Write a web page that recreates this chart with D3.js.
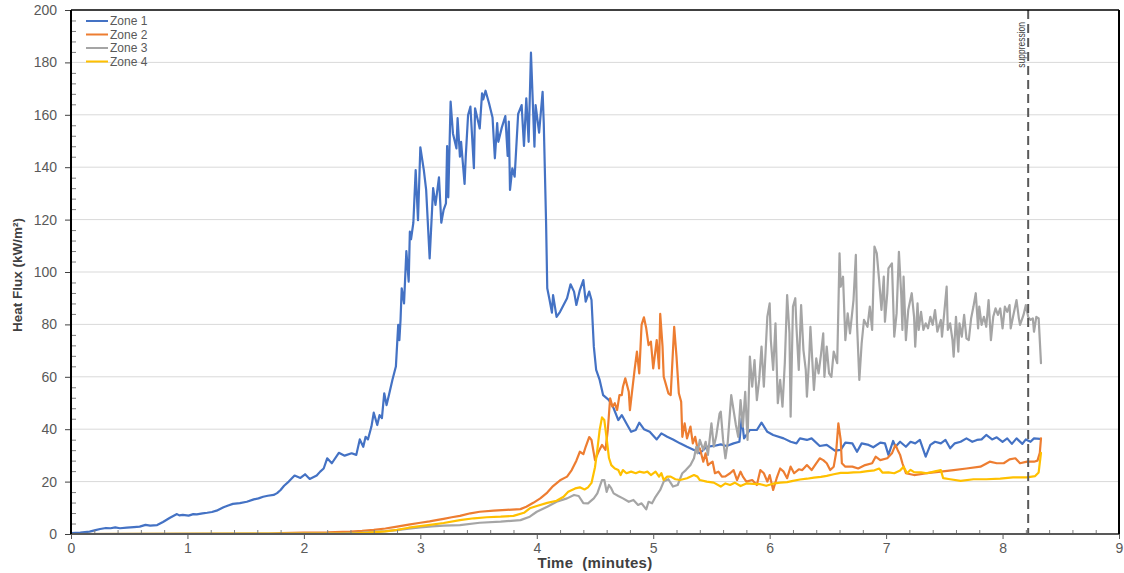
<!DOCTYPE html>
<html>
<head>
<meta charset="utf-8">
<script src="https://cdn.jsdelivr.net/npm/d3@7"></script>
<style>
  body { margin: 0; background: #fff; }
  svg { display: block; }
  text { font-family: "Liberation Sans", Arial, Helvetica, sans-serif; }
</style>
</head>
<body>
<svg id="chart" width="1124" height="573"></svg>
<script>
// Heat flux readings per zone (time in minutes, flux in kW/m²)
const zone1Time = [0,0.08,0.16,0.21,0.25,0.3,0.34,0.38,0.42,0.48,0.54,0.59,0.64,0.68,0.74,0.79,0.85,0.91,0.93,0.96,1.01,1.05,1.08,1.13,1.17,1.21,1.25,1.31,1.35,1.39,1.45,1.51,1.57,1.61,1.65,1.69,1.74,1.77,1.8,1.83,1.87,1.92,1.97,2.01,2.05,2.11,2.14,2.17,2.2,2.24,2.3,2.35,2.41,2.45,2.48,2.51,2.53,2.55,2.58,2.6,2.63,2.65,2.67,2.69,2.71,2.73,2.76,2.79,2.81,2.82,2.83,2.84,2.86,2.88,2.9,2.91,2.92,2.94,2.96,2.98,3.0,3.03,3.05,3.08,3.11,3.13,3.16,3.18,3.2,3.22,3.23,3.24,3.26,3.28,3.31,3.32,3.34,3.35,3.38,3.39,3.41,3.43,3.46,3.47,3.51,3.53,3.54,3.56,3.59,3.62,3.64,3.66,3.67,3.7,3.73,3.75,3.76,3.77,3.79,3.81,3.84,3.87,3.89,3.91,3.93,3.95,3.98,3.99,4.02,4.05,4.06,4.08,4.09,4.11,4.13,4.14,4.17,4.2,4.23,4.26,4.29,4.32,4.34,4.37,4.4,4.42,4.45,4.47,4.49,4.51,4.54,4.57,4.62,4.66,4.7,4.73,4.77,4.81,4.85,4.88,4.92,4.97,5.03,5.07,5.12,5.17,5.23,5.29,5.35,5.4,5.46,5.52,5.58,5.63,5.69,5.74,5.76,5.78,5.83,5.89,5.93,5.98,6.03,6.12,6.18,6.23,6.26,6.32,6.36,6.43,6.49,6.56,6.61,6.65,6.71,6.75,6.79,6.85,6.89,6.95,6.99,7.02,7.06,7.08,7.12,7.17,7.21,7.25,7.29,7.34,7.38,7.42,7.47,7.51,7.55,7.59,7.64,7.69,7.74,7.78,7.82,7.86,7.91,7.95,8.0,8.04,8.08,8.12,8.17,8.2,8.24,8.27,8.32];
const zone1Flux = [0.3,0.5,0.9,1.5,1.9,2.3,2.2,2.5,2.2,2.4,2.6,2.8,3.5,3.2,3.4,4.6,6.2,7.6,7.1,7.3,7.0,7.6,7.5,7.9,8.1,8.4,8.9,10.2,10.9,11.5,11.8,12.3,13.2,13.6,14.2,14.6,14.9,15.6,16.8,18.4,20,22.3,21.4,22.8,21,22.3,23.8,25,28.9,27,31,29.9,30.8,30.2,36.1,33.3,37.1,36.1,41,46.3,41.6,45.4,44.2,53.7,49.2,53,58.8,63.9,79.8,74,81.7,93.8,88,108,96.3,115.4,112.5,118.8,138.9,119.8,147.6,138.9,131.3,105.2,132,125.6,136.1,118.8,123.7,126.2,148.1,128.5,165,152.9,147.2,158.7,144,149.7,133.6,144,159.9,163.1,139.6,162.5,154.8,168.2,165.9,169.2,164.4,159,143.4,156.8,149.7,155.2,159.5,144.3,157.4,131.3,139.6,136.4,160.3,163.7,148.1,166.3,149.7,183.7,147.8,163.7,153.2,168.8,156.8,118.6,93.8,89.3,84.5,91.2,82.9,84.8,87.4,90,95.3,92.5,87.4,93.1,96.9,88.7,92.5,89.3,71.5,62.6,58.8,53,51.1,48,43.5,45.4,42.2,39,39.7,42.5,40,39,36.1,38.4,37.1,36.1,34.6,33.3,32.1,30.8,33.3,33.6,34.2,33.6,34.6,35.2,44.2,36.5,39.7,39.7,42.5,39,37.8,36.5,35.2,34.6,36.5,35.9,36.5,33.6,34,31.8,32.1,34.9,34.6,31.4,34.6,34,33.1,34.9,34.6,30.2,35.5,33.3,35.2,33.3,35.2,34.6,35.9,29.5,34,35.2,34.6,35.9,32.7,34.6,35.2,36.5,35.2,35.9,36.1,37.8,36.1,36.9,35.2,36.5,34.4,36.5,34.4,36.1,35.2,36.5,36.3];

const zone2Time = [0,1.7,1.8,2.0,2.2,2.4,2.5,2.6,2.7,2.8,2.9,3.0,3.08,3.15,3.2,3.27,3.34,3.43,3.51,3.63,3.74,3.86,3.91,3.97,4.03,4.09,4.14,4.2,4.26,4.3,4.34,4.37,4.4,4.42,4.45,4.47,4.5,4.53,4.56,4.59,4.61,4.63,4.65,4.67,4.69,4.71,4.73,4.74,4.76,4.79,4.8,4.82,4.84,4.86,4.88,4.9,4.92,4.94,4.96,4.98,5.0,5.03,5.05,5.06,5.08,5.09,5.11,5.13,5.15,5.18,5.2,5.22,5.24,5.25,5.27,5.29,5.32,5.34,5.36,5.38,5.4,5.43,5.45,5.47,5.49,5.51,5.53,5.56,5.59,5.62,5.66,5.69,5.72,5.75,5.77,5.8,5.85,5.89,5.92,5.95,5.98,6.0,6.03,6.06,6.09,6.12,6.15,6.18,6.21,6.25,6.28,6.32,6.36,6.4,6.43,6.46,6.49,6.52,6.55,6.57,6.59,6.61,6.62,6.65,6.71,6.76,6.82,6.88,6.91,6.95,7.01,7.05,7.08,7.1,7.12,7.14,7.17,7.24,7.35,7.47,7.58,7.69,7.81,7.89,7.95,8.01,8.06,8.11,8.15,8.21,8.27,8.3,8.32,8.33];
const zone2Flux = [0,0.1,0.3,0.5,0.6,0.9,1.2,1.6,2.1,2.8,3.6,4.3,4.8,5.4,5.8,6.4,6.9,7.9,8.5,8.9,9.2,9.5,10.4,11.9,13.6,15.8,18.3,20.5,21.9,24.4,28,31.4,30.5,33.3,37,35.9,28.2,31.4,34,32.1,39.7,51.8,48.6,49.9,47.3,53,53,56.2,59.4,54.3,47.3,55,62.6,69.6,61.3,79.8,82.7,78.5,72.1,73.4,63.2,74,63.2,84,71.5,60,56.9,53.7,53,79.1,67.7,53.7,50.5,37.1,42.2,36.5,41,34.6,37.1,32.7,32.7,27.6,30.8,26.3,27,27.6,23.2,23.8,21.9,22,23.2,24.4,20.6,23.8,21.9,20,20.6,18.7,24.4,23.2,20,22.5,16.8,21.3,25,23.8,21.3,25.7,23.2,24.7,24.4,26.3,24.4,27,28.9,28.2,27,24.4,25.7,30.8,42.2,35.9,27,25.7,25.7,25,26.3,27,29.5,28.2,28.9,30.8,34,32,30.2,27,23.2,22.5,23.2,23.8,24.4,25,25.7,27.6,27,27,28.5,28.9,27,27.6,27.6,28,31,36.5];

const zone3Time = [0,2.3,2.5,2.6,2.7,2.8,2.9,3.0,3.1,3.2,3.34,3.51,3.69,3.86,3.94,4.0,4.09,4.17,4.26,4.32,4.36,4.4,4.44,4.49,4.52,4.56,4.58,4.6,4.62,4.64,4.66,4.7,4.74,4.79,4.83,4.87,4.9,4.94,4.96,4.99,5.02,5.06,5.09,5.13,5.17,5.21,5.25,5.28,5.32,5.35,5.37,5.38,5.4,5.43,5.45,5.47,5.5,5.52,5.54,5.57,5.58,5.6,5.62,5.64,5.67,5.69,5.71,5.73,5.75,5.77,5.79,5.81,5.83,5.85,5.87,5.89,5.91,5.93,5.95,5.98,6.0,6.01,6.03,6.05,6.07,6.09,6.11,6.13,6.15,6.17,6.18,6.2,6.22,6.23,6.25,6.27,6.29,6.31,6.32,6.34,6.35,6.38,6.4,6.42,6.44,6.46,6.47,6.49,6.51,6.53,6.55,6.58,6.6,6.61,6.63,6.65,6.67,6.69,6.72,6.74,6.75,6.77,6.79,6.81,6.84,6.86,6.88,6.9,6.92,6.94,6.96,6.98,6.99,7.01,7.02,7.05,7.07,7.09,7.11,7.13,7.14,7.15,7.17,7.19,7.22,7.24,7.25,7.27,7.28,7.3,7.32,7.34,7.36,7.38,7.4,7.42,7.44,7.47,7.48,7.5,7.52,7.53,7.55,7.57,7.58,7.6,7.62,7.63,7.65,7.67,7.69,7.71,7.73,7.75,7.77,7.79,7.8,7.82,7.84,7.86,7.88,7.9,7.92,7.94,7.96,7.98,8.0,8.02,8.04,8.06,8.07,8.09,8.12,8.14,8.15,8.18,8.2,8.22,8.24,8.26,8.27,8.29,8.31,8.33];
const zone3Flux = [0,0.2,0.5,0.8,1.1,1.5,2.0,2.5,2.9,3.2,3.4,4.3,4.7,5.3,6.6,8.5,10.4,12.3,13.6,14.9,14.5,11.8,11.7,13.6,15.5,20.6,20.6,16.1,18.7,17.4,15.5,14.5,13.6,12.3,13,11.1,11.7,9.4,12.3,11.7,14.2,16.8,20,20.9,18.1,18.7,23.2,24.4,26.3,28.9,33.3,30.8,35.9,32.1,35.2,30.2,42.2,33.3,37.1,46,46.7,35.9,28.9,35,53,47.3,41.6,37.1,51.1,41,54.3,35.9,67.7,56.2,66.4,51.1,58.8,71.5,56.2,82.9,88,74,62.6,80.4,49.9,58.8,48.6,65.2,91.2,76.6,44.8,86.8,90,79.1,62.6,87.4,70.2,62.6,52.4,67.7,79.1,55,67,61.3,68.3,76.6,60,71.5,61.3,60,69.6,65.2,107.1,94.4,98.2,74,84.2,76.6,89.3,106.5,80.4,58.8,72.8,81.7,79.1,86.8,77.9,109.7,107.1,96.9,85.5,98.2,81,91.9,101.4,103.3,75.3,84.2,107.7,91.2,77.9,98.2,74,85.5,91.9,82.9,71.5,88,77.9,84.8,77.9,80.4,78.5,82.9,79.8,85.5,77.2,81.7,75.3,84.8,94.4,77.9,80.4,74,67.7,82.9,69.6,80.4,75.3,83.6,74.7,74,82.3,86.8,91.9,78.5,86.8,79.8,82.9,79.1,89.3,74,82.9,86.1,83.6,86.1,78.5,86.8,84.8,87.4,78.5,82.9,89.3,82.3,79.8,83.6,87.4,82.9,81.7,82.3,77.2,82.9,82.3,65.2];

const zone4Time = [0,2.4,2.55,2.7,2.8,2.9,3.0,3.1,3.2,3.34,3.46,3.57,3.69,3.8,3.89,3.94,4.0,4.09,4.17,4.23,4.27,4.33,4.37,4.41,4.44,4.47,4.5,4.52,4.54,4.56,4.58,4.6,4.62,4.64,4.67,4.7,4.72,4.74,4.77,4.81,4.85,4.88,4.92,4.95,4.98,5.02,5.05,5.07,5.09,5.12,5.15,5.19,5.23,5.29,5.35,5.38,5.4,5.46,5.52,5.58,5.62,5.66,5.7,5.75,5.8,5.86,5.92,5.97,6.03,6.09,6.15,6.2,6.26,6.32,6.38,6.44,6.49,6.55,6.61,6.67,6.72,6.78,6.84,6.9,6.94,6.97,7.02,7.07,7.12,7.15,7.18,7.21,7.24,7.3,7.35,7.41,7.47,7.49,7.55,7.64,7.75,7.86,7.98,8.09,8.21,8.28,8.31,8.33];
const zone4Flux = [0,0.2,0.5,1.0,1.6,2.4,3.0,3.6,4.2,5.3,6,6.4,6.6,6.9,8.1,9.8,10.7,11.9,12.7,14.2,16.1,17.4,17.8,17,17.8,19.5,25.5,32.1,39.7,44.5,43.5,36.5,29,26.3,25,24.4,22.5,24.4,23.2,23.8,23.2,23.8,23.4,23.8,22.5,23.8,21.9,23.2,20.6,21.9,21.9,20.9,20.6,21.3,22.5,21.9,20.6,20,19.6,18.1,19.3,18.7,19.6,18.3,19.3,19.1,19,18.4,19.2,19.6,19.8,20.3,20.8,21.1,21.5,21.8,22.2,22.8,23.3,23.3,23.5,23.6,24,24.3,25,23.4,23.5,23.2,24.2,25.7,23.2,24.5,23.6,23.5,23.2,23.8,24.4,21.3,20.9,20.3,20.9,20.9,21.1,21.6,21.6,22.1,23.5,31];

const seriesNames = ["Zone 1", "Zone 2", "Zone 3", "Zone 4"];
const seriesColors = ["#4472C4", "#ED7D31", "#A5A5A5", "#FFC000"];
const xTickValues = [0, 1, 2, 3, 4, 5, 6, 7, 8, 9];
const yTickValues = [0, 20, 40, 60, 80, 100, 120, 140, 160, 180, 200];
const suppressionTime = 8.22;
const suppressionLabel = "suppression";

const zones = [
  { name: seriesNames[0], color: seriesColors[0], t: zone1Time, v: zone1Flux },
  { name: seriesNames[1], color: seriesColors[1], t: zone2Time, v: zone2Flux },
  { name: seriesNames[2], color: seriesColors[2], t: zone3Time, v: zone3Flux },
  { name: seriesNames[3], color: seriesColors[3], t: zone4Time, v: zone4Flux }
];

const svg = d3.select("#chart");
const plot = { left: 71, right: 1119, top: 10, bottom: 534 };

const x = d3.scaleLinear().domain([0, 9]).range([plot.left, plot.right]);
const y = d3.scaleLinear().domain([0, 200]).range([plot.bottom, plot.top]);

const labelColor = "#595959";

// horizontal gridlines
svg.append("g")
  .selectAll("line")
  .data(yTickValues.filter(d => d > 0 && d < 200))
  .join("line")
  .attr("x1", plot.left).attr("x2", plot.right)
  .attr("y1", d => y(d)).attr("y2", d => y(d))
  .attr("stroke", "#D9D9D9").attr("stroke-width", 1);

// series lines
const line = d3.line()
  .x(d => x(d[0]))
  .y(d => y(d[1]));

svg.append("g")
  .selectAll("path")
  .data(zones)
  .join("path")
  .attr("d", z => line(z.t.map((t, i) => [t, z.v[i]])))
  .attr("fill", "none")
  .attr("stroke", z => z.color)
  .attr("stroke-width", 2.2)
  .attr("stroke-linejoin", "round")
  .attr("stroke-linecap", "round");

// suppression marker
svg.append("line")
  .attr("x1", x(suppressionTime)).attr("x2", x(suppressionTime))
  .attr("y1", plot.top).attr("y2", plot.bottom)
  .attr("stroke", "#595959").attr("stroke-width", 2)
  .attr("stroke-dasharray", "9,5");

svg.append("text")
  .attr("transform", `translate(${x(suppressionTime) - 3},${plot.top + 12}) rotate(-90) scale(0.85,1)`)
  .attr("text-anchor", "end")
  .attr("font-size", 10)
  .attr("fill", "#404040")
  .text(suppressionLabel);

// y axis: major ticks outside, minor ticks inside
const yAxis = svg.append("g")
  .attr("transform", `translate(${plot.left},0)`)
  .call(d3.axisLeft(y).tickValues(yTickValues).tickSize(6).tickPadding(8));
yAxis.select(".domain").remove();
yAxis.selectAll(".tick line").attr("stroke", "#404040");
yAxis.selectAll(".tick text")
  .attr("fill", labelColor)
  .attr("font-size", 14)
  .attr("font-family", "'Liberation Sans', Arial, sans-serif");

const yMinor = svg.append("g")
  .attr("transform", `translate(${plot.left},0)`)
  .call(d3.axisLeft(y).tickValues(d3.range(0, 201, 4).filter(v => v % 20 !== 0)).tickSize(-5).tickFormat(""));
yMinor.select(".domain").remove();
yMinor.selectAll(".tick line").attr("stroke", "#7F7F7F");

// x axis: major ticks outside, minor ticks inside
const xAxis = svg.append("g")
  .attr("transform", `translate(0,${plot.bottom})`)
  .call(d3.axisBottom(x).tickValues(xTickValues).tickSize(5).tickPadding(4).tickFormat(d3.format("d")));
xAxis.select(".domain").remove();
xAxis.selectAll(".tick line").attr("stroke", "#595959");
xAxis.selectAll(".tick text")
  .attr("fill", labelColor)
  .attr("font-size", 14)
  .attr("font-family", "'Liberation Sans', Arial, sans-serif");

const xMinor = svg.append("g")
  .attr("transform", `translate(0,${plot.bottom})`)
  .call(d3.axisBottom(x).tickValues(d3.range(0, 45).map(i => i * 0.2).filter(v => Math.abs(v - Math.round(v)) > 1e-6)).tickSize(-4).tickFormat(""));
xMinor.select(".domain").remove();
xMinor.selectAll(".tick line").attr("stroke", "#7F7F7F");

// frame lines
svg.append("line")
  .attr("x1", plot.left).attr("x2", plot.right)
  .attr("y1", plot.bottom).attr("y2", plot.bottom)
  .attr("stroke", "#595959").attr("stroke-width", 2);
svg.append("line")
  .attr("x1", plot.left).attr("x2", plot.left)
  .attr("y1", plot.top).attr("y2", plot.bottom)
  .attr("stroke", "#000").attr("stroke-width", 2);
svg.append("line")
  .attr("x1", plot.left).attr("x2", plot.right)
  .attr("y1", plot.top).attr("y2", plot.top)
  .attr("stroke", "#000").attr("stroke-width", 1.5);
svg.append("line")
  .attr("x1", plot.right).attr("x2", plot.right)
  .attr("y1", plot.top).attr("y2", plot.bottom)
  .attr("stroke", "#000").attr("stroke-width", 2);

// axis titles
svg.append("text")
  .attr("x", (plot.left + plot.right) / 2)
  .attr("y", 568)
  .attr("text-anchor", "middle")
  .attr("font-size", 15)
  .attr("font-weight", "bold")
  .attr("fill", "#404040")
  .attr("letter-spacing", 0.3)
  .style("white-space", "pre")
  .text("Time  (minutes)");

svg.append("text")
  .attr("transform", `translate(22,${(plot.top + plot.bottom) / 2 + 3}) rotate(-90)`)
  .attr("text-anchor", "middle")
  .attr("font-size", 13.5)
  .attr("font-weight", "bold")
  .attr("fill", "#404040")
  .text("Heat Flux (kW/m²)");

// legend
const legend = svg.append("g");
const legendRows = legend.selectAll("g")
  .data(zones)
  .join("g")
  .attr("transform", (d, i) => `translate(86,${21 + i * 13.5})`);
legendRows.append("line")
  .attr("x1", 0).attr("x2", 22)
  .attr("stroke", d => d.color).attr("stroke-width", 2);
legendRows.append("text")
  .attr("x", 24).attr("y", 4)
  .attr("font-size", 12)
  .attr("fill", labelColor)
  .text(d => d.name);
</script>
</body>
</html>
